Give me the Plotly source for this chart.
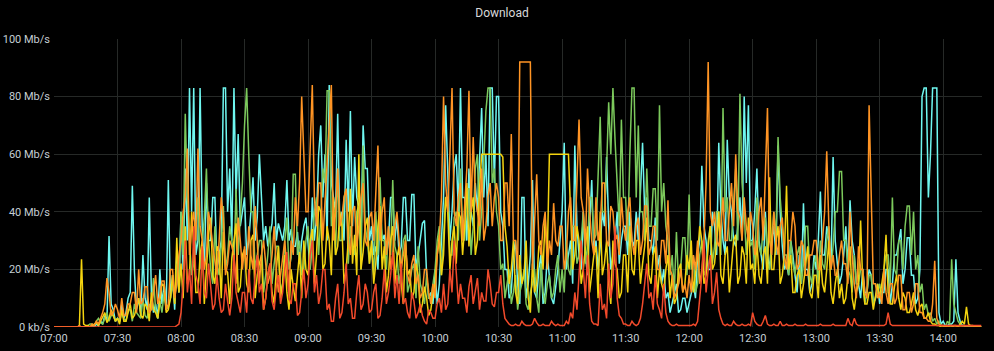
import pandas as pd
import plotly.graph_objects as go

# one sample per minute from 07:00 to 14:18 (439 samples)
start = "2024-01-01 07:00"

yellow = [
    0, 0, 0, 0, 0, 0, 0, 0, 0, 0, 0, 0, 0.5, 23.5, 1, 0.5, 0.5, 0, 0.5, 1, 1.5, 0.5, 2, 3, 5, 1.5, 3, 6, 4, 2,
    3, 1, 6, 2, 2, 5, 8, 3, 4, 7, 10, 4, 3, 8, 7, 2, 12, 6, 5, 3, 9, 15, 14, 5, 6, 10, 18, 8, 31, 12,
    22, 10, 35, 15, 18, 40, 28, 12, 12, 25, 30, 8, 20, 32, 38, 18, 15, 28, 26, 10, 33, 20, 19, 8, 24, 30, 36, 12, 14, 25,
    27, 15, 12, 30, 32, 10, 18, 22, 25, 6, 10, 18, 22, 12, 8, 20, 28, 10, 15, 25, 12, 6, 20, 14, 9, 18, 26, 10, 30, 20,
    18, 30, 34, 15, 25, 42, 40, 20, 22, 35, 30, 18, 45, 25, 28, 40, 35, 15, 20, 30, 48, 22, 32, 18, 60, 20, 26, 35, 38, 22,
    30, 15, 22, 35, 42, 20, 28, 12, 18, 30, 35, 15, 24, 28, 15, 8, 30, 18, 20, 10, 12, 22, 18, 5, 8, 14, 10, 4, 6, 12,
    15, 25, 32, 18, 25, 45, 40, 20, 30, 35, 22, 40, 38, 25, 35, 50, 28, 40, 45, 25, 30, 48, 60, 60, 60, 60, 60, 60, 60, 60,
    60, 60, 59, 35, 28, 15, 20, 30, 12, 8, 25, 15, 18, 30, 10, 5, 22, 12, 15, 28, 30, 20, 38, 25, 60, 60, 60, 60, 60, 60,
    60, 60, 60, 60, 40, 20, 25, 35, 30, 15, 20, 28, 35, 12, 18, 25, 28, 10, 40, 18, 22, 30, 15, 8, 30, 22, 20, 10, 12, 25,
    25, 12, 35, 20, 18, 30, 30, 15, 22, 28, 38, 18, 15, 25, 28, 10, 20, 15, 12, 20, 25, 10, 18, 8, 10, 20, 22, 12, 15, 25,
    20, 30, 12, 18, 25, 35, 30, 15, 18, 28, 35, 20, 22, 30, 40, 18, 15, 25, 28, 12, 20, 30, 32, 15, 18, 28, 25, 15, 38, 20,
    22, 15, 30, 18, 15, 25, 28, 15, 52, 20, 20, 30, 35, 15, 18, 25, 49, 20, 25, 12, 12, 18, 20, 10, 15, 22, 28, 12, 10, 18,
    18, 10, 25, 15, 12, 20, 30, 12, 8, 15, 20, 10, 15, 8, 10, 18, 28, 10, 6, 12, 15, 37, 15, 8, 8, 12, 12, 6, 10, 15,
    10, 15, 20, 32, 12, 8, 8, 14, 18, 10, 6, 12, 10, 5, 5, 8, 12, 6, 4, 7, 8, 3, 3, 5, 2, 1, 1, 0.5, 0.5, 0,
    0, 0, 0.5, 0, 0, 0.5, 0.5, 0, 1, 2, 1, 7, 1, 0.5, 0.5, 0, 0, 0, 0,
]

green = [
    0, 0, 0, 0, 0, 0, 0, 0, 0, 0, 0, 0, 0, 0, 0, 0, 0.5, 1, 1, 0.5, 2, 3, 1.5, 1, 3, 5, 2, 4, 4, 2,
    3, 2, 5, 3, 2, 6, 6, 2, 8, 5, 4, 3, 10, 4, 3, 8, 6, 17, 6, 3, 9, 5, 12, 6, 7, 10, 15, 8, 22, 12,
    40, 25, 74, 45, 30, 18, 22, 35, 45, 20, 28, 38, 55, 30, 20, 15, 35, 22, 18, 28, 42, 20, 25, 35, 30, 22, 48, 25, 38, 50,
    70, 83, 60, 40, 40, 20, 25, 30, 30, 12, 18, 25, 35, 15, 22, 28, 28, 12, 15, 30, 38, 20, 24, 53, 53, 25, 30, 18, 20, 30,
    35, 20, 28, 40, 45, 25, 38, 55, 50, 82, 82, 35, 40, 25, 55, 30, 30, 45, 48, 22, 35, 28, 25, 40, 42, 20, 63, 35, 30, 22,
    28, 18, 40, 25, 52, 30, 30, 20, 35, 25, 51, 28, 25, 15, 20, 30, 32, 12, 15, 20, 22, 10, 28, 15, 12, 8, 18, 10, 10, 15,
    20, 30, 35, 18, 30, 45, 45, 25, 25, 38, 40, 30, 55, 35, 30, 48, 48, 25, 35, 55, 60, 30, 40, 60, 75, 83, 83, 50, 55, 40,
    35, 20, 22, 10, 15, 20, 8, 12, 18, 6, 12, 15, 20, 8, 6, 12, 15, 20, 10, 5, 22, 12, 8, 15, 18, 10, 12, 20, 25, 12,
    20, 12, 30, 20, 18, 35, 35, 22, 25, 30, 40, 22, 28, 45, 45, 30, 32, 50, 73, 40, 40, 55, 78, 60, 83, 65, 50, 35, 72, 45,
    45, 30, 60, 83, 83, 45, 70, 40, 40, 30, 55, 35, 35, 48, 48, 30, 77, 40, 50, 35, 30, 18, 25, 12, 33, 15, 20, 31, 31, 18,
    46, 20, 25, 12, 15, 25, 30, 18, 20, 30, 35, 22, 28, 40, 40, 25, 76, 40, 45, 30, 30, 45, 55, 30, 81, 50, 40, 25, 35, 28,
    30, 20, 45, 28, 25, 35, 38, 22, 20, 30, 40, 30, 66, 45, 35, 25, 25, 18, 30, 22, 18, 25, 28, 15, 22, 35, 35, 18, 15, 22,
    25, 15, 30, 22, 20, 30, 35, 20, 28, 40, 40, 54, 54, 30, 30, 20, 18, 12, 25, 15, 15, 20, 20, 8, 12, 18, 18, 8, 10, 12,
    15, 10, 20, 25, 25, 15, 45, 20, 18, 30, 30, 20, 35, 42, 42, 25, 40, 20, 25, 12, 15, 6, 8, 4, 5, 2, 3, 1, 2, 0.5,
    0.5, 0, 2, 1, 23.5, 8, 5, 2, 1, 0.5, 0.5, 0, 0, 0, 0, 0, 0, 0, 0,
]

cyan = [
    0, 0, 0, 0, 0, 0, 0, 0, 0, 0, 0, 0, 0, 0, 0, 0, 0, 0, 0.5, 0, 1, 0.5, 2, 1, 4, 2, 31.6, 8, 6, 2,
    3, 2, 8, 3, 5, 10, 12, 49, 19, 6, 10, 4, 25, 10, 6, 45, 12, 5, 8, 3, 20, 8, 15, 6, 51, 10, 18, 6, 25, 12,
    40, 20, 55, 30, 83, 40, 83, 25, 30, 83, 35, 20, 50, 30, 30, 45, 45, 20, 25, 30, 83, 83, 40, 55, 30, 83, 45, 67, 35, 40,
    45, 25, 30, 40, 52, 30, 38, 60, 45, 30, 35, 28, 32, 36, 50, 30, 36, 33, 30, 35, 51, 30, 34, 28, 28, 33, 22, 30, 35, 38,
    30, 20, 45, 30, 38, 60, 70, 45, 60, 30, 84, 50, 45, 40, 74, 35, 40, 30, 65, 40, 75, 35, 59, 45, 42, 30, 70, 55, 55, 30,
    35, 25, 28, 20, 40, 30, 32, 25, 30, 45, 45, 30, 38, 25, 28, 45, 45, 30, 30, 46, 46, 20, 25, 30, 36, 37, 18, 10, 12, 8,
    20, 8, 15, 30, 45, 77, 50, 30, 40, 55, 60, 40, 83, 45, 45, 30, 55, 40, 35, 50, 40, 60, 76, 45, 60, 35, 83, 83, 50, 80,
    80, 40, 35, 20, 20, 10, 12, 25, 30, 15, 8, 45, 45, 10, 15, 25, 51, 12, 10, 20, 25, 8, 12, 25, 18, 10, 8, 15, 20, 30,
    40, 64, 20, 25, 30, 15, 63, 35, 25, 20, 40, 25, 18, 35, 51, 25, 30, 20, 28, 40, 35, 59, 35, 20, 25, 30, 40, 22, 30, 35,
    35, 25, 40, 30, 28, 40, 30, 45, 64, 40, 45, 30, 30, 25, 38, 20, 25, 15, 20, 10, 12, 5, 8, 12, 15, 5, 6, 10, 10, 5,
    8, 12, 15, 10, 25, 30, 56, 35, 30, 20, 20, 40, 35, 25, 64, 40, 30, 25, 65, 45, 40, 30, 28, 35, 45, 30, 80, 50, 77, 30,
    30, 40, 55, 30, 25, 20, 40, 25, 20, 30, 35, 25, 63, 40, 28, 20, 22, 18, 30, 25, 18, 12, 25, 15, 43, 20, 20, 12, 15, 25,
    20, 30, 47, 25, 25, 35, 30, 20, 59, 30, 22, 15, 18, 25, 35, 20, 44, 30, 25, 15, 15, 10, 20, 12, 12, 20, 18, 8, 10, 15,
    8, 12, 12, 20, 20, 8, 15, 25, 25, 30, 34, 15, 20, 31, 31, 18, 18, 8, 10, 20, 80, 83, 83, 45, 60, 83, 83, 83, 5, 1,
    2, 0.5, 0.5, 1, 1, 2, 23.5, 5, 2, 0.5, 0.5, 0, 0, 0, 0, 0, 0, 0, 0,
]

orange = [
    0, 0, 0, 0, 0, 0, 0, 0, 0, 0, 0, 0, 0.5, 0, 0, 0, 0, 0, 1, 0.5, 2, 1, 3, 5, 8, 17, 12, 4, 5, 8,
    6, 3, 10, 4, 4, 8, 8, 12, 12, 5, 20, 8, 9, 14, 14, 5, 6, 12, 18, 8, 11, 16, 16, 6, 8, 20, 20, 10, 15, 25,
    30, 40, 45, 62, 25, 35, 40, 30, 62, 35, 30, 20, 25, 40, 35, 28, 22, 18, 30, 45, 38, 18, 22, 30, 28, 25, 15, 38, 30, 20,
    28, 20, 35, 25, 20, 42, 30, 15, 25, 30, 22, 15, 18, 25, 35, 20, 12, 18, 25, 30, 20, 12, 30, 25, 45, 35, 50, 80, 60, 40,
    40, 60, 84, 45, 35, 50, 50, 30, 45, 55, 70, 84, 30, 40, 55, 35, 38, 45, 48, 30, 25, 40, 42, 28, 35, 45, 50, 30, 28, 38,
    40, 30, 45, 63, 30, 40, 45, 25, 35, 20, 25, 35, 40, 30, 20, 25, 30, 18, 15, 22, 25, 15, 18, 10, 12, 20, 20, 12, 8, 15,
    10, 25, 30, 45, 80, 50, 40, 60, 83, 40, 35, 45, 50, 30, 45, 55, 82, 40, 66, 45, 40, 35, 55, 30, 35, 45, 50, 35, 45, 50,
    45, 30, 30, 50, 50, 35, 67, 30, 30, 20, 92, 92, 92, 92, 92, 92, 20, 35, 53, 30, 25, 35, 40, 20, 30, 25, 43, 30, 28, 35,
    35, 20, 25, 40, 45, 30, 30, 50, 72, 45, 40, 28, 55, 40, 30, 25, 45, 30, 35, 50, 50, 30, 28, 42, 40, 30, 32, 25, 45, 35,
    30, 40, 45, 30, 25, 35, 38, 25, 30, 42, 42, 25, 28, 35, 35, 20, 20, 30, 30, 22, 44, 20, 18, 10, 12, 15, 20, 12, 15, 10,
    18, 12, 25, 20, 30, 15, 20, 30, 50, 92, 40, 35, 40, 30, 28, 35, 45, 30, 30, 40, 50, 35, 60, 40, 38, 30, 45, 35, 30, 40,
    35, 25, 28, 40, 45, 30, 50, 76, 30, 25, 40, 30, 25, 35, 38, 25, 20, 30, 30, 40, 35, 20, 22, 30, 28, 18, 18, 25, 25, 30,
    30, 20, 20, 30, 40, 61, 35, 20, 25, 18, 18, 25, 30, 22, 22, 15, 40, 25, 15, 10, 28, 20, 20, 12, 10, 77, 40, 15, 15, 10,
    12, 8, 20, 12, 8, 15, 15, 8, 10, 18, 18, 6, 6, 12, 12, 5, 8, 15, 15, 5, 5, 3, 3, 2, 2, 8, 23, 3, 1, 0.5,
    0.5, 0, 0, 0.5, 0.5, 0, 0, 0, 0, 0, 0, 0, 0, 0, 0, 0, 0, 0, 0,
]

red = [
    0, 0, 0, 0, 0, 0, 0, 0, 0, 0, 0, 0, 0, 0, 0, 0, 0, 0, 0, 0, 0, 0, 0, 0, 0, 0, 0, 0, 0, 0,
    0, 0, 0, 0, 0, 0, 0, 0, 0, 0, 0, 0, 0, 0, 0, 0, 0, 0, 0, 0, 0, 0, 0, 0, 0, 0, 0, 0, 0.5, 1,
    5, 15, 30, 12, 20, 8, 35, 18, 15, 8, 28, 12, 10, 22, 14, 6, 8, 18, 10, 5, 6, 15, 9, 4, 10, 25, 12, 8, 5, 12,
    12, 5, 20, 10, 8, 18, 25, 12, 15, 6, 10, 18, 22, 9, 6, 14, 18, 8, 12, 20, 26, 10, 8, 15, 15, 4, 5, 12, 20, 10,
    15, 25, 30, 12, 18, 8, 12, 20, 20, 6, 8, 2, 2, 10, 15, 3, 5, 12, 22, 8, 10, 3, 3, 12, 18, 6, 8, 15, 12, 5,
    6, 12, 15, 3, 4, 10, 20, 8, 12, 18, 26, 10, 18, 8, 22, 8, 10, 5, 3, 12, 9, 3, 5, 8, 4, 2, 1, 6, 5, 3,
    3, 8, 10, 5, 15, 6, 8, 20, 12, 30, 20, 8, 15, 10, 10, 5, 14, 18, 8, 12, 17, 6, 12, 9, 9, 20, 15, 8, 7, 12,
    12, 18, 8, 3, 2, 1, 0.5, 0.5, 1, 0.5, 0.5, 2, 1, 0.5, 0.5, 0.5, 1, 3, 1.5, 0.5, 0.5, 1, 0.5, 0.5, 0.5, 2, 1, 0.5, 1, 0.5,
    0.5, 0.5, 2, 1, 5, 3, 12, 6, 18, 30, 20, 10, 25, 8, 2, 1, 1, 0.5, 15, 6, 8, 3, 22, 10, 15, 35, 10, 4, 3, 1,
    1, 0.5, 0.5, 2, 1, 0.5, 1, 3, 8, 15, 22, 10, 12, 6, 18, 8, 6, 3, 15, 5, 2, 1, 0.5, 0.5, 1, 0.5, 0.5, 0.5, 0.5, 0.5,
    0.5, 0.5, 1, 0.5, 2, 10, 18, 30, 12, 20, 25, 8, 12, 19, 6, 3, 1, 0.5, 1, 0.5, 0.5, 2, 1, 0.5, 0.5, 1, 0.5, 0.5, 1, 0.5,
    5, 2, 1, 0.5, 0.5, 2, 4, 1, 0.5, 0.5, 1, 0.5, 0.5, 2, 0.5, 0.5, 1, 0.5, 0.5, 0.5, 1, 0.5, 0.5, 0.5, 0.5, 1, 0.5, 0.5, 0.5, 0.5,
    0.5, 0.5, 1, 0.5, 0.5, 0.5, 0.5, 0.5, 1, 0.5, 0.5, 0.5, 0.5, 0.5, 0.5, 3, 1, 0.5, 3, 1, 0.5, 0.5, 0.5, 0.5, 0.5, 0.5, 0.5, 0.5, 0.5, 0.5,
    0.5, 0.5, 0.5, 1, 5, 1, 0.5, 0.5, 0.5, 0.5, 0.5, 0.5, 0.5, 0.5, 0.5, 0.5, 0.5, 0.5, 0.5, 0.5, 0.5, 0.5, 0.5, 0.5, 0.5, 0.5, 0.5, 0.5, 0.5, 0.5,
    0.5, 0.5, 0.5, 0.5, 0.5, 0.5, 0.5, 0.5, 0.5, 0.5, 0.5, 0.5, 0.5, 0.5, 0.5, 0.5, 0.5, 0.5, 0.5,
]

y_tick_vals = [0, 20, 40, 60, 80, 100]
y_tick_text = ["0 kb/s", "20 Mb/s", "40 Mb/s", "60 Mb/s", "80 Mb/s", "100 Mb/s"]

series = [
    ("cyan", cyan, "#6ff7f0"),
    ("green", green, "#7cc95c"),
    ("yellow", yellow, "#f4d40f"),
    ("orange", orange, "#ff9424"),
    ("red", red, "#f24a2b"),
]

fig = go.Figure()
for name, vals, col in series:
    times = pd.date_range(start, periods=len(vals), freq="1min")
    fig.add_trace(go.Scatter(x=times, y=vals, mode="lines", name=name,
                             line=dict(color=col, width=1.5), showlegend=False))

tick_color = "#c5ced4"
grid_color = "#262927"
fig.update_layout(
    width=994, height=351,
    margin=dict(l=54, r=12, t=39, b=24),
    paper_bgcolor="#000000", plot_bgcolor="#000000",
    font=dict(family="Roboto, Helvetica, Arial, sans-serif", size=11, color=tick_color),
    title=dict(text="Download", x=0.505, xanchor="center", y=1 - 13 / 351, yanchor="middle",
               yref="container", font=dict(size=12, color="#d8d9da")),
)
fig.update_xaxes(
    range=[pd.Timestamp("2024-01-01 07:00"), pd.Timestamp("2024-01-01 14:18:20")],
    tickformat="%H:%M", dtick=30 * 60 * 1000,
    tick0=pd.Timestamp("2024-01-01 07:00"),
    showgrid=True, gridcolor=grid_color, gridwidth=1, automargin=False,
    zeroline=False, showline=False, ticks="", ticklabelstandoff=3,
    tickfont=dict(size=11, color=tick_color),
)
fig.update_yaxes(
    range=[0, 100], tickvals=y_tick_vals, ticktext=y_tick_text,
    showgrid=True, gridcolor=grid_color, gridwidth=1, automargin=False,
    zeroline=False, showline=False, ticks="", ticklabelstandoff=3,
    tickfont=dict(size=11, color=tick_color),
)

fig.write_html("out.html")
